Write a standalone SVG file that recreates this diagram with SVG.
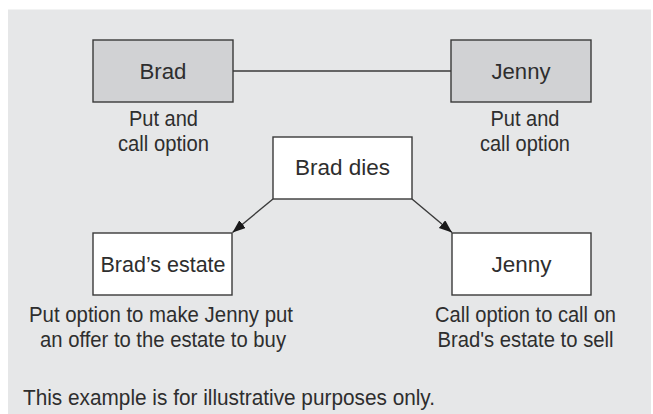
<svg xmlns="http://www.w3.org/2000/svg" width="653" height="414" viewBox="0 0 653 414">
<defs>
<style>
.bg{fill:#e6e7e8}
.box{stroke:#3a3a3a;stroke-width:1.4}
.grey{fill:#d1d2d4}
.white{fill:#ffffff}
.t{font-family:"Liberation Sans",Arial,sans-serif;font-size:22px;fill:#2e2e2e;text-anchor:middle}
.conn{stroke:#3a3a3a;stroke-width:1.4;fill:none}
</style>
<marker id="arr" markerWidth="14" markerHeight="12" refX="13" refY="5" orient="auto" markerUnits="userSpaceOnUse">
<path d="M0,0 L13,5 L0,10 Z" fill="#1a1a1a"/>
</marker>
</defs>
<rect class="bg" x="8" y="9.5" width="643" height="405"/>
<g id="connectors">
<line class="conn" x1="233" y1="71" x2="451" y2="71"/>
<line class="conn" x1="273" y1="199" x2="232.5" y2="232.5" marker-end="url(#arr)"/>
<line class="conn" x1="412" y1="199" x2="452" y2="232.5" marker-end="url(#arr)"/>
</g>
<g id="brad">
<rect class="box grey" x="93" y="40" width="140" height="62"/>
<text class="t" x="163" y="79" textLength="47" lengthAdjust="spacingAndGlyphs">Brad</text>
<text class="t" x="163.5" y="126" textLength="69" lengthAdjust="spacingAndGlyphs">Put and</text>
<text class="t" x="163.5" y="151" textLength="91" lengthAdjust="spacingAndGlyphs">call option</text>
</g>
<g id="jenny-top">
<rect class="box grey" x="451" y="40" width="140" height="62"/>
<text class="t" x="521" y="79" textLength="59" lengthAdjust="spacingAndGlyphs">Jenny</text>
<text class="t" x="525" y="126" textLength="69" lengthAdjust="spacingAndGlyphs">Put and</text>
<text class="t" x="525" y="151" textLength="90" lengthAdjust="spacingAndGlyphs">call option</text>
</g>
<g id="brad-dies">
<rect class="box white" x="273" y="137" width="139" height="62"/>
<text class="t" x="342.5" y="175" textLength="95" lengthAdjust="spacingAndGlyphs">Brad dies</text>
</g>
<g id="brads-estate">
<rect class="box white" x="93" y="233" width="139" height="62"/>
<text class="t" x="163" y="272" textLength="125" lengthAdjust="spacingAndGlyphs">Brad’s estate</text>
<text class="t" x="161" y="322" textLength="264" lengthAdjust="spacingAndGlyphs">Put option to make Jenny put</text>
<text class="t" x="163" y="347" textLength="246" lengthAdjust="spacingAndGlyphs">an offer to the estate to buy</text>
</g>
<g id="jenny-bottom">
<rect class="box white" x="452" y="233" width="139" height="62"/>
<text class="t" x="521.5" y="272" textLength="60" lengthAdjust="spacingAndGlyphs">Jenny</text>
<text class="t" x="525.5" y="322" textLength="181" lengthAdjust="spacingAndGlyphs">Call option to call on</text>
<text class="t" x="525.5" y="347" textLength="176" lengthAdjust="spacingAndGlyphs">Brad's estate to sell</text>
</g>
<text class="t" x="23" y="405" style="text-anchor:start" textLength="412" lengthAdjust="spacingAndGlyphs">This example is for illustrative purposes only.</text>
</svg>
